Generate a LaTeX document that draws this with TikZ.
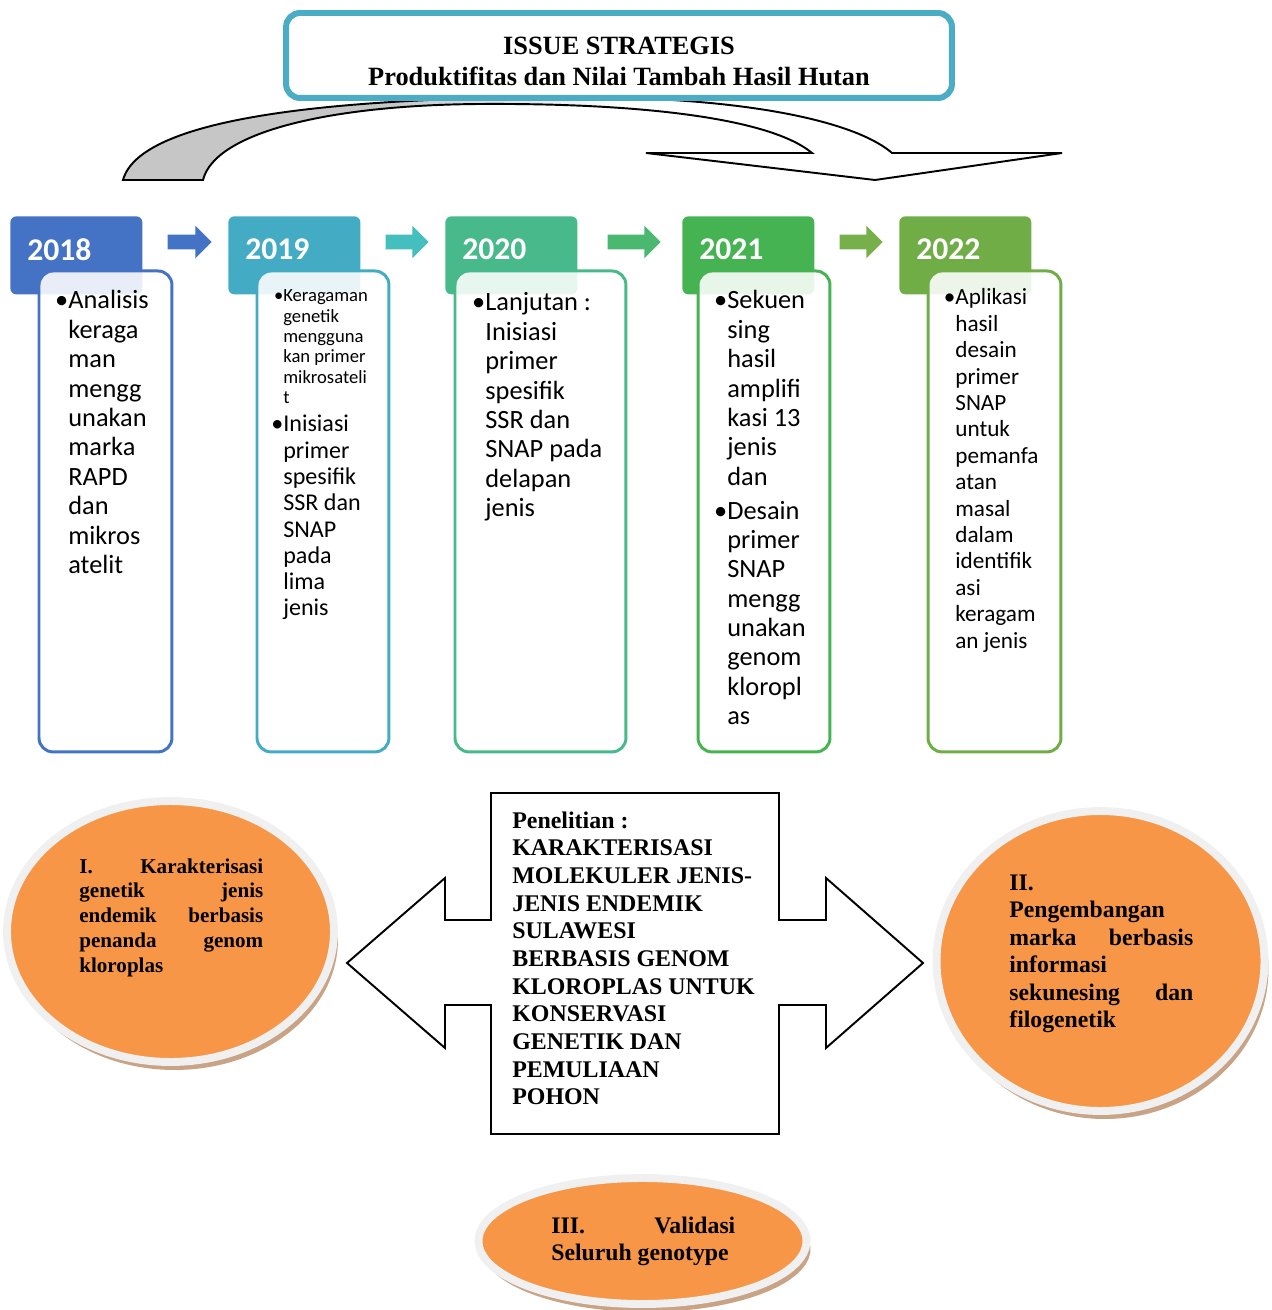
\documentclass[tikz,border=0pt]{standalone}
\usepackage{fontspec}
\setmainfont{Liberation Serif}
\newfontfamily\calfont{Carlito}
\usetikzlibrary{shapes.geometric,shapes.arrows,shadows}

\definecolor{c18}{HTML}{4472C4}
\definecolor{c19}{HTML}{43ACC4}
\definecolor{c20}{HTML}{47B98B}
\definecolor{c21}{HTML}{46B352}
\definecolor{c22}{HTML}{70AD47}
\definecolor{a19}{HTML}{45BFBE}
\definecolor{a20}{HTML}{4BB86F}
\definecolor{a21}{HTML}{77B04B}
\definecolor{hdr}{HTML}{4BACC6}
\definecolor{orng}{HTML}{F79646}
\definecolor{rim}{HTML}{F0F0F0}
\definecolor{shd}{HTML}{C9A386}

\pgfdeclarehorizontalshading{bandfade}{100bp}{color(0bp)=(gray!45); color(39bp)=(gray!45); color(52bp)=(white); color(100bp)=(white)}

\tikzset{
  yeartab/.style={fill=#1, rounded corners=0.12cm, anchor=north west, minimum width=2.64cm, minimum height=1.56cm,
    text width=1.96cm, align=flush left, text depth=0.24cm, inner sep=0, text=white, font=\calfont\bfseries\fontsize{18}{20}\selectfont},
  yearbox/.style={draw=#1, line width=1.7pt, fill=white, fill opacity=0.88, rounded corners=0.28cm, anchor=north west,
    minimum height=9.62cm, inner sep=0},
  yeararrow/.style={single arrow, fill=#1, inner xsep=0, inner ysep=0.14cm, single arrow head extend=0.18cm},
  bul/.style={anchor=base west, inner sep=0, align=flush left, text width=3.3cm, font=\calfont\fontsize{15}{16.73}\selectfont},
  blob/.style={ellipse, fill=orng, draw=rim, line width=4.5pt, inner sep=0,
    drop shadow={shadow xshift=0.08cm, shadow yshift=-0.16cm, fill=shd, opacity=1}},
  blobtext/.style={anchor=base west, inner sep=0, align=flush left, text width=3.68cm, font=\bfseries\fontsize{13.5}{15.7}\selectfont},
}
\newcommand{\ybul}{\llap{•}}

\begin{document}
\begin{tikzpicture}[x=0.02cm,y=-0.02cm]
\useasboundingbox (0,0) rectangle (1271,1310);

% curved arrow under the header
\shadedraw[shading=bandfade, draw=black, line width=1.1pt]
  (123,180) .. controls (140,118) and (330,98) .. (560,97)
  .. controls (760,96) and (860,125) .. (892,153)
  -- (1062,153) -- (875,180) -- (646,153) -- (812,153)
  .. controls (770,118) and (640,103) .. (480,104)
  .. controls (330,105) and (215,132) .. (203,180) -- cycle;

\node[draw=hdr, line width=3.4pt, fill=white, rounded corners=0.28cm, minimum width=13.32cm, minimum height=1.7cm,
  inner sep=0, text width=13cm, align=flush center, text height=0.6cm, font=\bfseries\fontsize{15}{17.6}\selectfont]
  (issue) at (619,55.5) {ISSUE STRATEGIS\\Produktifitas dan Nilai Tambah Hasil Hutan};

% year tabs
\node[yeartab=c18] (y18) at (10,216) {2018};
\node[yeartab=c19] (y19) at (228,216) {2019};
\node[yeartab=c20] (y20) at (445,216) {2020};
\node[yeartab=c21] (y21) at (682,216) {2021};
\node[yeartab=c22] (y22) at (899,216) {2022};

\node[yeararrow=c18, minimum height=0.88cm] (ar1) at (186,242) {};
\node[yeararrow=a19, minimum height=0.86cm] (ar2) at (403.5,242) {};
\node[yeararrow=a20, minimum height=1.06cm] (ar3) at (630.5,242) {};
\node[yeararrow=a21, minimum height=0.86cm] (ar4) at (857.5,242) {};

% content boxes
\node[yearbox=c18, minimum width=2.66cm] (bx18) at (37.5,269.5) {};
\node[yearbox=c19, minimum width=2.64cm] (bx19) at (255.5,269.5) {};
\node[yearbox=c20, minimum width=3.42cm] (bx20) at (453.5,269.5) {};
\node[yearbox=c21, minimum width=2.64cm] (bx21) at (696.5,269.5) {};
\node[yearbox=c22, minimum width=2.66cm] (bx22) at (926.5,269.5) {};

\node[bul] (tx18) at (68,309) {\ybul Analisis\\keraga\\man\\mengg\\unakan\\marka\\RAPD\\dan\\mikros\\atelit};
\node[bul, font=\calfont\fontsize{10.6}{11.55}\selectfont] (tx19a) at (283,302)
  {\ybul Keragaman\\genetik\\mengguna\\kan primer\\mikrosateli\\t};
\node[bul, font=\calfont\fontsize{13.7}{14.96}\selectfont] (tx19b) at (283,432)
  {\ybul Inisiasi\\primer\\spesifik\\SSR dan\\SNAP\\pada\\lima\\jenis};
\node[bul] (tx20) at (485,311) {\ybul Lanjutan :\\Inisiasi\\primer\\spesifik\\SSR dan\\SNAP pada\\delapan\\jenis};
\node[bul] (tx21a) at (727,309) {\ybul Sekuen\\sing\\hasil\\amplifi\\kasi 13\\jenis\\dan};
\node[bul] (tx21b) at (727,519) {\ybul Desain\\primer\\SNAP\\mengg\\unakan\\genom\\kloropl\\as};
\node[bul, font=\calfont\fontsize{13.2}{15.02}\selectfont] (tx22) at (955,305)
  {\ybul Aplikasi\\hasil\\desain\\primer\\SNAP\\untuk\\pemanfa\\atan\\masal\\dalam\\identifik\\asi\\keragam\\an jenis};

% research outputs
\node[blob, minimum width=6.54cm, minimum height=5.22cm] (e1) at (170.5,931.5) {};
\node[blob, minimum width=6.56cm, minimum height=6cm] (e2) at (1100.5,961) {};
\node[blob, minimum width=6.56cm, minimum height=2.52cm] (e3) at (642.5,1241) {};

\node[blobtext, font=\bfseries\fontsize{12}{14.2}\selectfont] (t1) at (79,873)
  {I.\hfill Karakterisasi\\genetik\hfill jenis\\endemik\hfill berbasis\\penanda\hfill genom\\kloroplas};
\node[blobtext] (t2) at (1009,890)
  {II.\\Pengembangan\\marka\hfill berbasis\\informasi\\sekunesing\hfill dan\\filogenetik};
\node[blobtext, font=\bfseries\fontsize{13.5}{15.65}\selectfont] (t3) at (551,1233) {III.\hfill Validasi\\Seluruh genotype};

% left-right arrow callout
\draw[line width=1.1pt, fill=white] (491,793) -- (779,793) -- (779,920) -- (826,920) -- (826,878) -- (923,963)
  -- (826,1048) -- (826,1005) -- (779,1005) -- (779,1134) -- (491,1134) -- (491,1005) -- (445,1005)
  -- (445,1048) -- (347,963) -- (445,878) -- (445,920) -- (491,920) -- cycle;
\node[anchor=base west, inner sep=0, align=flush left, text width=5.3cm, font=\bfseries\fontsize{13.6}{15.76}\selectfont]
  (pen) at (512,828) {Penelitian :\\KARAKTERISASI\\MOLEKULER JENIS-\\JENIS ENDEMIK\\SULAWESI\\BERBASIS GENOM\\KLOROPLAS UNTUK\\KONSERVASI\\GENETIK DAN\\PEMULIAAN\\POHON};
\end{tikzpicture}
\end{document}
